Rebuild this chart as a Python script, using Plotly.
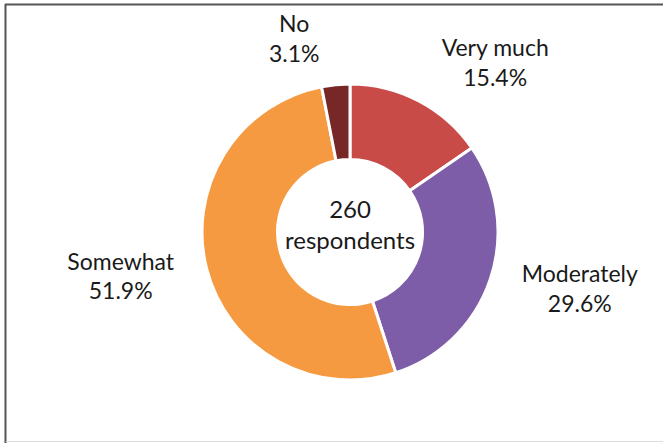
import plotly.graph_objects as go

# Survey responses (n = 260)
categories = ["Very much", "Moderately", "Somewhat", "No"]
counts = [40, 77, 135, 8]
colors = ["#C94B48", "#7E5DA8", "#F69A41", "#782727"]
total_label = "260<br>respondents"

W, H = 663, 443
cx, cy, r = 350, 232, 148  # pie centre and radius in pixels
r_text = 166                # radius of the ring the outside labels sit on
FONT = "Lato"


def domain(radius):
    return dict(
        x=[(cx - radius) / W, (cx + radius) / W],
        y=[(H - cy - radius) / H, (H - cy + radius) / H],
    )


common = dict(labels=categories, values=counts, sort=False,
              direction="clockwise", rotation=0, showlegend=False,
              hoverinfo="skip")

# transparent ring that only carries the outside labels
fig = go.Figure(
    go.Pie(
        **common,
        hole=0.9,
        marker=dict(colors=["rgba(0,0,0,0)"] * len(counts),
                    line=dict(width=0)),
        texttemplate="%{label}<br>%{percent:.1%}",
        textposition="outside",
        textfont=dict(family=FONT, size=23, color="#1a1a1a"),
        domain=domain(r_text),
    )
)

# the donut itself
fig.add_trace(
    go.Pie(
        **common,
        hole=0.49,
        marker=dict(colors=colors, line=dict(color="white", width=3)),
        textinfo="none",
        domain=domain(r),
    )
)

fig.add_annotation(
    text=total_label,
    x=cx / W, y=(H - cy + 8) / H, xref="paper", yref="paper",
    showarrow=False, font=dict(family=FONT, size=24, color="#1a1a1a"),
)

# frame lines
fig.add_shape(type="line", xref="paper", yref="paper",
              x0=5 / W, x1=1, y0=1 - 4.5 / H, y1=1 - 4.5 / H,
              line=dict(color="#555555", width=2))
fig.add_shape(type="line", xref="paper", yref="paper",
              x0=5.5 / W, x1=5.5 / W, y0=0, y1=1 - 4 / H,
              line=dict(color="#555555", width=2))
fig.add_shape(type="line", xref="paper", yref="paper",
              x0=6 / W, x1=1, y0=1.5 / H, y1=1.5 / H,
              line=dict(color="#dddddd", width=1))

fig.update_layout(
    width=W, height=H,
    margin=dict(l=0, r=0, t=0, b=0),
    paper_bgcolor="white",
    plot_bgcolor="white",
)

fig.write_html("out.html")
